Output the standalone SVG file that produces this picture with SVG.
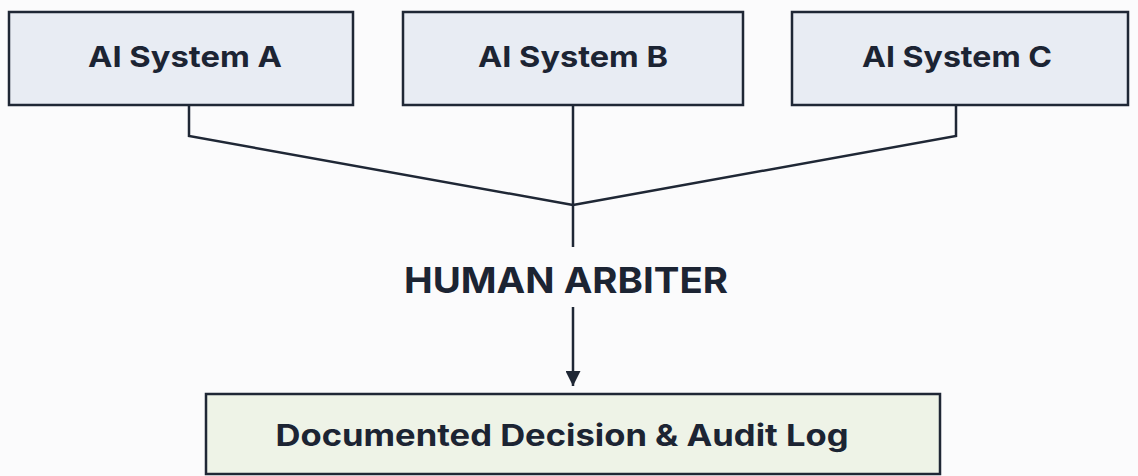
<svg xmlns="http://www.w3.org/2000/svg" width="1138" height="476" viewBox="0 0 1138 476">
<style>
.box{fill:#e8ecf3;stroke:#1f2735;stroke-width:2.5}
.log{fill:#eef3e7;stroke:#1f2735;stroke-width:2.5}
.t{font-family:Inter,"Noto Sans",sans-serif;font-weight:700;fill:#1c2433;text-anchor:middle}
.c{fill:none;stroke:#1f2735;stroke-width:2.5}
</style>
<defs>
<marker id="ah" viewBox="0 0 10 10" refX="10" refY="5" markerWidth="6" markerHeight="6" markerUnits="strokeWidth" orient="auto">
<path d="M0,0 L10,5 L0,10 z" fill="#1f2735"/>
</marker>
</defs>
<rect width="1138" height="476" fill="#fbfbfc"/>
<g id="connectors">
<polyline class="c" points="189,106 189,136 573,205"/>
<polyline class="c" points="956,106 956,136 573,205"/>
<line class="c" x1="573" y1="105" x2="573" y2="247"/>
<line class="c" x1="573" y1="307" x2="573" y2="386" marker-end="url(#ah)"/>
</g>
<g id="sysA">
<rect class="box" x="9" y="12" width="344" height="93"/>
<text class="t" x="185" y="67" font-size="29" textLength="194" lengthAdjust="spacingAndGlyphs">AI System A</text>
</g>
<g id="sysB">
<rect class="box" x="403" y="12" width="340" height="93"/>
<text class="t" x="573" y="67" font-size="29" textLength="190" lengthAdjust="spacingAndGlyphs">AI System B</text>
</g>
<g id="sysC">
<rect class="box" x="792" y="12" width="336" height="93"/>
<text class="t" x="957" y="67" font-size="29" textLength="190" lengthAdjust="spacingAndGlyphs">AI System C</text>
</g>
<g id="arbiter">
<text class="t" x="566" y="293" font-size="36" textLength="324" lengthAdjust="spacingAndGlyphs">HUMAN ARBITER</text>
</g>
<g id="log">
<rect class="log" x="206" y="394" width="734" height="80"/>
<text class="t" x="562" y="446" font-size="30" textLength="573" lengthAdjust="spacingAndGlyphs">Documented Decision &amp; Audit Log</text>
</g>
</svg>
